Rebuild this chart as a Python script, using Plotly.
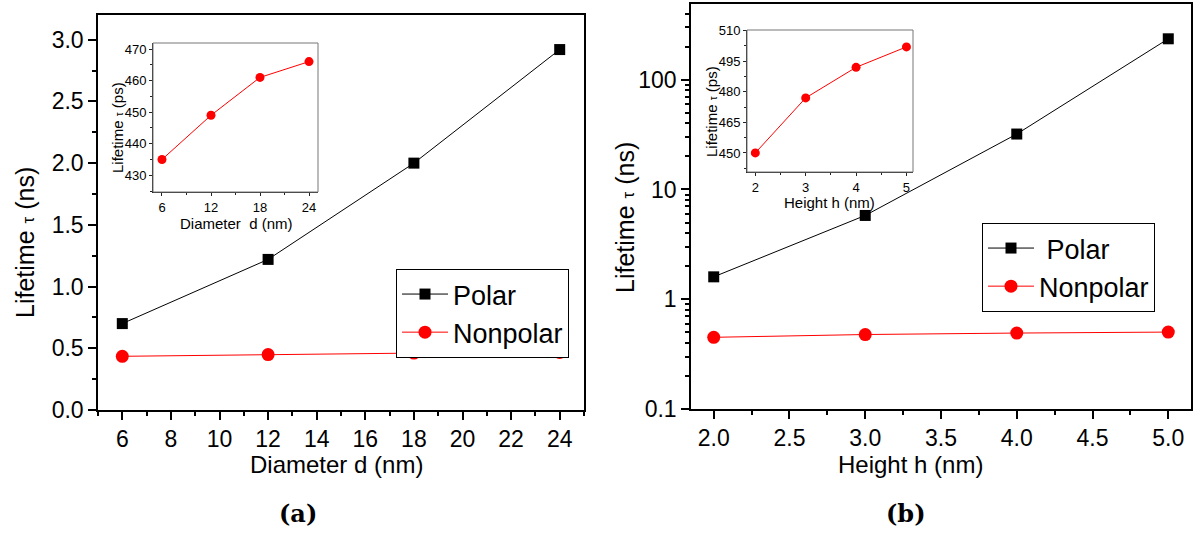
import plotly.graph_objects as go

# ---------------- data ----------------
diameter_nm = [6, 12, 18, 24]
polar_d_ns = [0.70, 1.22, 2.00, 2.92]
nonpolar_d_ps = [435, 449, 461, 466]
nonpolar_d_ns = [v / 1000 for v in nonpolar_d_ps]

height_nm = [2, 3, 4, 5]
polar_h_ns = [1.6, 5.8, 32, 236]
nonpolar_h_ps = [450, 477, 492, 502]
nonpolar_h_ns = [v / 1000 for v in nonpolar_h_ps]

log_tickvals = [0.1, 1, 10, 100]
log_ticktext = ["0.1", "1", "10", "100"]
legend_left = ["Polar", "Nonpolar"]
legend_right = ["\u00a0Polar", "Nonpolar"]

W, H = 1194, 533
def px(x):
    return x / W
def py(y):
    return 1 - y / H

FONT = "Liberation Sans, Arial, sans-serif"
RED = "#ff0000"
fig = go.Figure()

# main left
fig.add_trace(go.Scatter(x=diameter_nm, y=polar_d_ns, mode="lines+markers", name=legend_left[0],
                         line=dict(color="black", width=1),
                         marker=dict(symbol="square", size=11, color="black"),
                         xaxis="x", yaxis="y", legend="legend"))
fig.add_trace(go.Scatter(x=diameter_nm, y=nonpolar_d_ns, mode="lines+markers", name=legend_left[1],
                         line=dict(color=RED, width=1),
                         marker=dict(symbol="circle", size=13, color=RED),
                         xaxis="x", yaxis="y", legend="legend"))
# main right
fig.add_trace(go.Scatter(x=height_nm, y=polar_h_ns, mode="lines+markers", name=legend_right[0],
                         line=dict(color="black", width=1),
                         marker=dict(symbol="square", size=11, color="black"),
                         xaxis="x2", yaxis="y2", legend="legend2"))
fig.add_trace(go.Scatter(x=height_nm, y=nonpolar_h_ns, mode="lines+markers", name=legend_right[1],
                         line=dict(color=RED, width=1),
                         marker=dict(symbol="circle", size=13, color=RED),
                         xaxis="x2", yaxis="y2", legend="legend2"))
# insets
fig.add_trace(go.Scatter(x=diameter_nm, y=nonpolar_d_ps, mode="lines+markers", showlegend=False,
                         line=dict(color=RED, width=1),
                         marker=dict(symbol="circle", size=9, color=RED),
                         xaxis="x3", yaxis="y3"))
fig.add_trace(go.Scatter(x=height_nm, y=nonpolar_h_ps, mode="lines+markers", showlegend=False,
                         line=dict(color=RED, width=1),
                         marker=dict(symbol="circle", size=9, color=RED),
                         xaxis="x4", yaxis="y4"))

main_ax = dict(showline=True, linecolor="black", linewidth=1.5, mirror=True, automargin=False,
               ticks="outside", ticklen=8, tickwidth=1.5, tickcolor="black",
               showgrid=False, zeroline=False,
               tickfont=dict(family=FONT, size=23, color="black"))
inset_ax = dict(showline=True, linecolor="#222", linewidth=1, mirror=False, automargin=False,
                ticks="outside", ticklen=3, tickwidth=1, tickcolor="#222",
                showgrid=False, zeroline=False,
                tickfont=dict(family=FONT, size=13, color="black"))

fig.update_layout(
    template="none",
    width=W, height=H, autosize=False,
    margin=dict(l=0, r=0, t=0, b=0, pad=0),
    paper_bgcolor="white", plot_bgcolor="white",
    xaxis=dict(main_ax, domain=[px(98), px(584)], range=[5, 25], dtick=2, tick0=0,
               minor=dict(ticks="outside", ticklen=4, dtick=1, tick0=0, tickwidth=1.5, tickcolor="black"),
               anchor="y"),
    yaxis=dict(main_ax, domain=[py(410), py(15)], range=[0, 3.2], dtick=0.5, tick0=0, tickformat=".1f",
               minor=dict(ticks="outside", ticklen=4, dtick=0.25, tick0=0, tickwidth=1.5, tickcolor="black"),
               anchor="x"),
    xaxis2=dict(main_ax, domain=[px(691), px(1191)], range=[1.85, 5.15], dtick=0.5, tick0=2, tickformat=".1f",
                minor=dict(ticks="outside", ticklen=4, dtick=0.25, tick0=2, tickwidth=1.5, tickcolor="black"),
                anchor="y2"),
    yaxis2=dict(main_ax, domain=[py(409), py(4)], type="log", range=[-1, 2.69],
                tickvals=log_tickvals, ticktext=log_ticktext,
                minor=dict(ticks="outside", ticklen=4, dtick="D1", tickwidth=1.5, tickcolor="black"),
                anchor="x2"),
    xaxis3=dict(inset_ax, domain=[px(153), px(318)], range=[4.9, 25.1], tickvals=diameter_nm,
                minor=dict(ticks="outside", ticklen=2, dtick=3, tick0=0, tickcolor="#222"),
                anchor="y3"),
    yaxis3=dict(inset_ax, domain=[py(192), py(43)], range=[424.7, 471.9], dtick=10, tick0=430,
                minor=dict(ticks="outside", ticklen=2, dtick=5, tick0=430, tickcolor="#222"),
                anchor="x3"),
    xaxis4=dict(inset_ax, domain=[px(747), px(913)], range=[1.835, 5.13], tickvals=height_nm,
                minor=dict(ticks="outside", ticklen=2, dtick=0.5, tick0=2, tickcolor="#222"),
                anchor="y4"),
    yaxis4=dict(inset_ax, domain=[py(172), py(30)], range=[440.65, 510.3], dtick=15, tick0=450,
                minor=dict(ticks="outside", ticklen=2, dtick=7.5, tick0=450, tickcolor="#222"),
                anchor="x4"),
    legend=dict(x=px(396), y=py(269), xanchor="left", yanchor="top",
                bgcolor="white", bordercolor="black", borderwidth=1,
                font=dict(family=FONT, size=27, color="black"), tracegroupgap=0,
                itemwidth=46),
    legend2=dict(x=px(982), y=py(223), xanchor="left", yanchor="top",
                 bgcolor="white", bordercolor="black", borderwidth=1,
                 font=dict(family=FONT, size=27, color="black"), tracegroupgap=0,
                 itemwidth=46),
)

# inset frames (grey top/right edges)
for (x0, x1, y0, y1) in [(153, 318, 192, 43), (747, 913, 172, 30)]:
    fig.add_shape(type="rect", xref="paper", yref="paper",
                  x0=px(x0), x1=px(x1), y0=py(y0), y1=py(y1),
                  line=dict(color="#777", width=1), fillcolor="rgba(0,0,0,0)", layer="above")

def text(x, y, s, size, angle=0, family=FONT, bold=False):
    fig.add_annotation(x=px(x), y=py(y), xref="paper", yref="paper", text=("<b>%s</b>" % s) if bold else s,
                       showarrow=False, textangle=angle, xanchor="center", yanchor="middle",
                       font=dict(family=family, size=size, color="black"))

tau_big = "<span style='font-size:17px'>\u03c4</span>"
tau_small = "<span style='font-size:10px'>\u03c4</span>"
text(25, 243, "Lifetime " + tau_big + " (ns)", 25, -90)
text(625, 218, "Lifetime " + tau_big + " (ns)", 25, -90)
text(336, 464, "Diameter d (nm)", 24)
text(910, 464, "Height h (nm)", 24)
text(298, 513, "(a)", 24, family="DejaVu Serif, serif", bold=True)
text(906, 513, "(b)", 24, family="DejaVu Serif, serif", bold=True)
# inset titles
text(117, 128, "Lifetime " + tau_small + " (ps)", 15, -90)
text(236, 223, "Diameter&nbsp;&nbsp;d (nm)", 15)
text(711, 112, "Lifetime " + tau_small + " (ps)", 15, -90)
text(829, 202, "Height h (nm)", 15)

fig.write_html("out.html")
